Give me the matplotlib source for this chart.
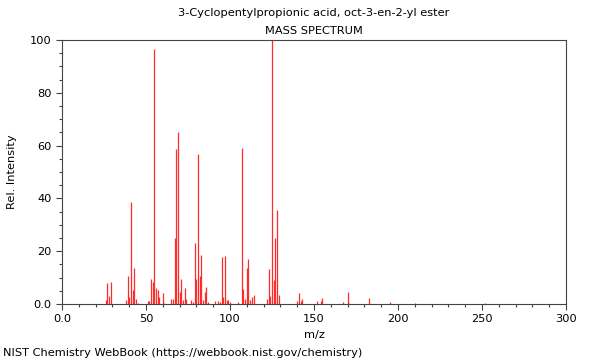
import matplotlib
matplotlib.use("Agg")
import matplotlib.pyplot as plt
from matplotlib.ticker import MultipleLocator, FuncFormatter

# === spectrum data (m/z, relative intensity) ===
mz = [26, 27, 28, 29, 38, 39, 40, 41, 42, 43, 44, 45,
      51, 52, 53, 54, 55, 56, 57, 58, 60, 61,
      65, 66, 67, 68, 69, 70, 71, 72, 73, 74,
      77, 78, 79, 80, 81, 82, 83, 84, 85, 86, 87,
      91, 93, 94, 95, 96, 97, 98, 99, 100,
      105, 107, 108, 109, 110, 111, 112, 113, 114,
      122, 123, 124, 125, 126, 127, 128, 129,
      140, 141, 142, 143, 152, 154, 155,
      167, 170, 171, 183, 195, 210, 252]
intensity = [1.5, 7.8, 3.2, 8.2, 1.5, 10.6, 2.5, 38.8, 5.3, 13.5, 2.0, 0.5,
             1.0, 1.0, 9.5, 8.3, 96.6, 6.2, 5.3, 2.5, 4.0, 0.5,
             2.0, 2.0, 24.9, 58.7, 65.0, 4.7, 9.5, 1.5, 6.0, 2.0,
             1.5, 0.8, 23.0, 9.5, 57.0, 10.6, 18.6, 1.5, 4.5, 6.4, 0.6,
             1.0, 1.0, 0.8, 17.7, 2.5, 18.2, 1.5, 1.5, 0.7,
             0.8, 59.2, 5.7, 2.0, 13.5, 16.9, 1.5, 2.5, 3.5,
             1.8, 13.3, 3.0, 100.0, 9.1, 25.1, 35.6, 3.4,
             1.2, 4.0, 1.2, 1.8, 1.3, 1.2, 2.2,
             0.6, 4.7, 0.5, 2.2, 0.9, 0.4, 0.5]

title_text = "3-Cyclopentylpropionic acid, oct-3-en-2-yl ester\nMASS SPECTRUM"
footer_text = "NIST Chemistry WebBook (https://webbook.nist.gov/chemistry)"

plt.rcParams['font.family'] = ['DejaVu Sans']
plt.rcParams['font.size'] = 8

fig = plt.figure(figsize=(6, 3.6), dpi=100)
ax = fig.add_axes([0.1033, 0.1556, 0.84, 0.7333])

ax.vlines(mz, 0, intensity, color='#ff2a2a', linewidth=0.9)

ax.set_xlim(0, 300)
ax.set_ylim(0, 100)
ax.xaxis.set_major_locator(MultipleLocator(50))
ax.xaxis.set_minor_locator(MultipleLocator(10))
ax.yaxis.set_major_locator(MultipleLocator(20))
ax.yaxis.set_minor_locator(MultipleLocator(5))

# NIST style: zero shown as 0.0, others as integers
fmt = FuncFormatter(lambda v, p: "0.0" if v == 0 else "%d" % v)
ax.xaxis.set_major_formatter(fmt)
ax.yaxis.set_major_formatter(fmt)

ax.tick_params(which='major', length=4, width=0.8, color='#444444', labelsize=8.2)
ax.tick_params(which='minor', length=2, width=0.8, color='#444444')
for s in ax.spines.values():
	s.set_color('#444444')
	s.set_linewidth(0.8)

ax.set_xlabel("m/z", fontsize=8.2)
ax.set_ylabel("Rel. Intensity", fontsize=8.2, labelpad=9)
ax.set_title(title_text, fontsize=8.2, linespacing=2.0, pad=4)

fig.text(0.005, 0.005, footer_text, fontsize=8.2, ha='left', va='bottom')

fig.savefig("out.png", dpi=100)
